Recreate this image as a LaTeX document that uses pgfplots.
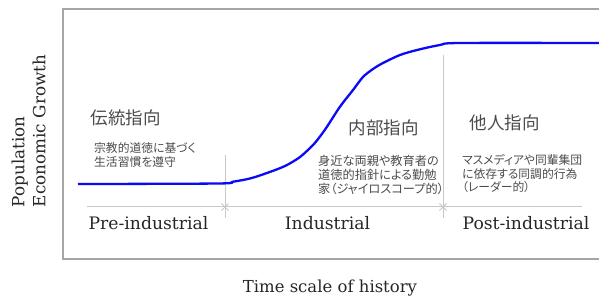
\documentclass[border=0pt]{standalone}
\usepackage{fontspec}
\usepackage{pgfplots}
\pgfplotsset{compat=1.18}
\newfontfamily\jp{Noto Sans CJK JP}
\newfontfamily\jpp[RawFeature=+palt]{Noto Sans CJK JP}
\newfontfamily\en{DejaVu Serif}
\definecolor{framegray}{RGB}{165,165,165}
\definecolor{sepgray}{RGB}{200,200,200}
\definecolor{txtgray}{RGB}{75,75,75}
\definecolor{curveblue}{RGB}{10,10,245}
\begin{document}
\begin{tikzpicture}
\begin{axis}[
  scale only axis, width=536bp, height=250bp,
  xmin=63, xmax=599, ymin=38, ymax=288,
  axis line style={draw=none}, xtick=\empty, ytick=\empty,
  clip=false,
  xlabel={Time scale of history},
  xlabel style={at={(axis description cs:0.498,-0.132)}, anchor=base, font=\en\fontsize{16.5bp}{20bp}\selectfont, text=black!85},
  ylabel={Population\\Economic Growth},
  ylabel style={at={(axis description cs:-0.064,0.512)}, anchor=center, align=left, font=\en\fontsize{16.8bp}{21bp}\selectfont, text=black!85},
]
% frame (three sides visible)
\draw[framegray, line width=1.6bp] (axis cs:599,288) -- (axis cs:63,288) -- (axis cs:63,38) -- (axis cs:599,38);
% separators
\addplot[sepgray, line width=1bp] coordinates {(87,90) (582,90)};
\addplot[sepgray, line width=1bp] coordinates {(225,142) (225,79)};
\addplot[sepgray, line width=1bp] coordinates {(443,242) (443,79)};
\addplot[sepgray, only marks, mark=x, mark size=5bp, mark options={line width=0.8bp}] coordinates {(225,90) (443,90)};
% growth curve
\addplot[curveblue, line width=2.3bp, smooth, tension=0.5] coordinates {
(78,113) (218,113.5) (233,115.3) (250,118.5) (267,124) (285,131) (300,140) (313,152) (320,160.5) (327,170.3) (340,190.3) (353,207) (363,220) (373,228) (383,234) (400,242) (417,247) (440,252) (460,254) (599,254)};
% period names
\node[anchor=base, font=\en\fontsize{17.2bp}{20bp}\selectfont, text=black!85] at (axis cs:148.5,68) {Pre-industrial};
\node[anchor=base, font=\en\fontsize{17.2bp}{20bp}\selectfont, text=black!85] at (axis cs:327.5,68) {Industrial};
\node[anchor=base, font=\en\fontsize{17.2bp}{20bp}\selectfont, text=black!85] at (axis cs:526,68) {Post-industrial};
% Japanese headings
\node[anchor=center, font=\jp\fontsize{17.5bp}{20bp}\selectfont, text=txtgray] at (axis cs:125.5,179) {伝統指向};
\node[anchor=center, font=\jp\fontsize{17.5bp}{20bp}\selectfont, text=txtgray] at (axis cs:383.5,169) {内部指向};
\node[anchor=center, font=\jp\fontsize{17.5bp}{20bp}\selectfont, text=txtgray] at (axis cs:504.5,174) {他人指向};
% Japanese descriptions
\node[anchor=west, align=left, inner sep=0pt, font=\jpp\fontsize{11.8bp}{14bp}\selectfont, text=txtgray] at (axis cs:94,142) {宗教的道徳に基づく\\生活習慣を遵守};
\node[anchor=west, align=left, inner sep=0pt, font=\jpp\fontsize{12.2bp}{14bp}\selectfont, text=txtgray] at (axis cs:318,122) {身近な両親や教育者の\\道徳的指針による勤勉\\家（ジャイロスコープ的）};
\node[anchor=west, align=left, inner sep=0pt, font=\jpp\fontsize{11.8bp}{13.5bp}\selectfont, text=txtgray] at (axis cs:462,123) {マスメディアや同輩集団\\に依存する同調的行為\\（レーダー的）};
\coordinate (BL) at (axis cs:0,0);
\coordinate (TR) at (axis cs:599,297);
\end{axis}
\pgfresetboundingbox
\path (BL) rectangle (TR);
\end{tikzpicture}
\end{document}
